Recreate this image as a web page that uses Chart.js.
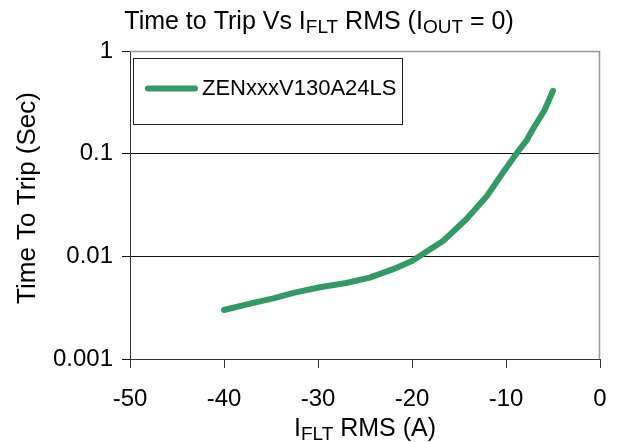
<!DOCTYPE html>
<html>
<head>
<meta charset="utf-8">
<script src="https://cdn.jsdelivr.net/npm/chart.js@4.4.1/dist/chart.umd.min.js"></script>
<style>
  html, body { margin: 0; padding: 0; background: #fff; }
</style>
</head>
<body>
<canvas id="myChart" width="627" height="442"></canvas>
<script>
const seriesName = 'ZENxxxV130A24LS';
const currentA = [-40, -37, -34.75, -32.6, -29.8, -27, -24.5, -22, -20, -16.7, -14.2, -12, -10.3, -8.5, -7.8, -7.1, -5.9, -5];
const tripSec = [0.0030, 0.0035, 0.0039, 0.0044, 0.0050, 0.0055, 0.0062, 0.0075, 0.0090, 0.0141, 0.0231, 0.039, 0.066, 0.112, 0.135, 0.176, 0.265, 0.41];
const yTicks = [0.001, 0.01, 0.1, 1];

const FONT = '"Liberation Sans", Arial, sans-serif';
const green = '#339966';

Chart.defaults.font.family = FONT;
Chart.defaults.color = '#000';

// text with subscripts: parts = [[text, size, dy], ...]
function richWidth(ctx, parts) {
    let w = 0;
    for (const p of parts) {
        ctx.font = p[1] + 'px ' + FONT;
        w += ctx.measureText(p[0]).width;
    }
    return w;
}
function drawRich(ctx, parts, x, y) {
    let cx = x;
    ctx.textBaseline = 'alphabetic';
    ctx.textAlign = 'left';
    for (const p of parts) {
        ctx.font = p[1] + 'px ' + FONT;
        ctx.fillText(p[0], cx, y + (p[2] || 0));
        cx += ctx.measureText(p[0]).width;
    }
}

const titleParts = [['Time to Trip Vs I', 25], ['FLT', 19, 4], [' RMS (I', 25], ['OUT', 19, 4], [' = 0)', 25]];
const xTitleParts = [['I', 25], ['FLT', 19, 4], [' RMS (A)', 25]];

const decorations = {
    id: 'decorations',
    afterDatasetsDraw(chart) {
        const ctx = chart.ctx;
        const a = chart.chartArea;
        ctx.save();
        // plot frame (top and right)
        ctx.strokeStyle = '#999';
        ctx.lineWidth = 1.5;
        ctx.beginPath();
        ctx.moveTo(a.left, a.top + 0.5);
        ctx.lineTo(a.right - 0.5, a.top + 0.5);
        ctx.lineTo(a.right - 0.5, a.bottom);
        ctx.stroke();

        // legend box
        ctx.strokeStyle = '#222';
        ctx.lineWidth = 1;
        ctx.fillStyle = '#fff';
        ctx.fillRect(133.5, 58.5, 269, 66);
        ctx.strokeRect(133.5, 58.5, 269, 66);
        ctx.strokeStyle = green;
        ctx.lineWidth = 6;
        ctx.lineCap = 'round';
        ctx.beginPath();
        ctx.moveTo(148, 88.5);
        ctx.lineTo(195, 88.5);
        ctx.stroke();
        ctx.fillStyle = '#000';
        ctx.font = '22px ' + FONT;
        ctx.textBaseline = 'middle';
        ctx.fillText(chart.data.datasets[0].label, 202, 89);

        // titles
        ctx.fillStyle = '#000';
        drawRich(ctx, titleParts, 319 - richWidth(ctx, titleParts) / 2, 29);
        const xc = (a.left + a.right) / 2;
        drawRich(ctx, xTitleParts, xc - richWidth(ctx, xTitleParts) / 2, 436);

        ctx.translate(35, (a.top + a.bottom) / 2 - 7);
        ctx.rotate(-Math.PI / 2);
        ctx.font = '26px ' + FONT;
        ctx.textAlign = 'center';
        ctx.textBaseline = 'alphabetic';
        ctx.fillText('Time To Trip (Sec)', 0, 0);
        ctx.restore();
    }
};

new Chart(document.getElementById('myChart'), {
    type: 'line',
    data: {
        datasets: [{
            label: seriesName,
            data: currentA.map((x, i) => ({ x, y: tripSec[i] })),
            borderColor: green,
            borderWidth: 6,
            borderCapStyle: 'round',
            borderJoinStyle: 'round',
            pointRadius: 0,
            tension: 0,
            fill: false
        }]
    },
    options: {
        responsive: false,
        animation: false,
        layout: { padding: { top: 51, right: 27, left: 0, bottom: 0 } },
        plugins: {
            legend: { display: false },
            title: { display: false },
            tooltip: { enabled: false }
        },
        scales: {
            x: {
                type: 'linear',
                min: -50,
                max: 0,
                ticks: { stepSize: 10, font: { size: 24 }, padding: 17, color: '#000' },
                grid: { drawOnChartArea: false, tickLength: 9, color: '#333' },
                border: { color: '#333', width: 1 },
                afterFit(scale) { scale.height = 83; }
            },
            y: {
                type: 'logarithmic',
                min: 0.001,
                max: 1,
                afterBuildTicks(scale) {
                    scale.ticks = yTicks.map(v => ({ value: v, major: true }));
                },
                ticks: {
                    font: { size: 24 },
                    padding: 9,
                    color: '#000',
                    callback: v => String(v)
                },
                grid: { color: '#111', tickLength: 8 },
                border: { color: '#333', width: 1 },
                afterFit(scale) { scale.width = 130; }
            }
        }
    },
    plugins: [decorations]
});
</script>
</body>
</html>
